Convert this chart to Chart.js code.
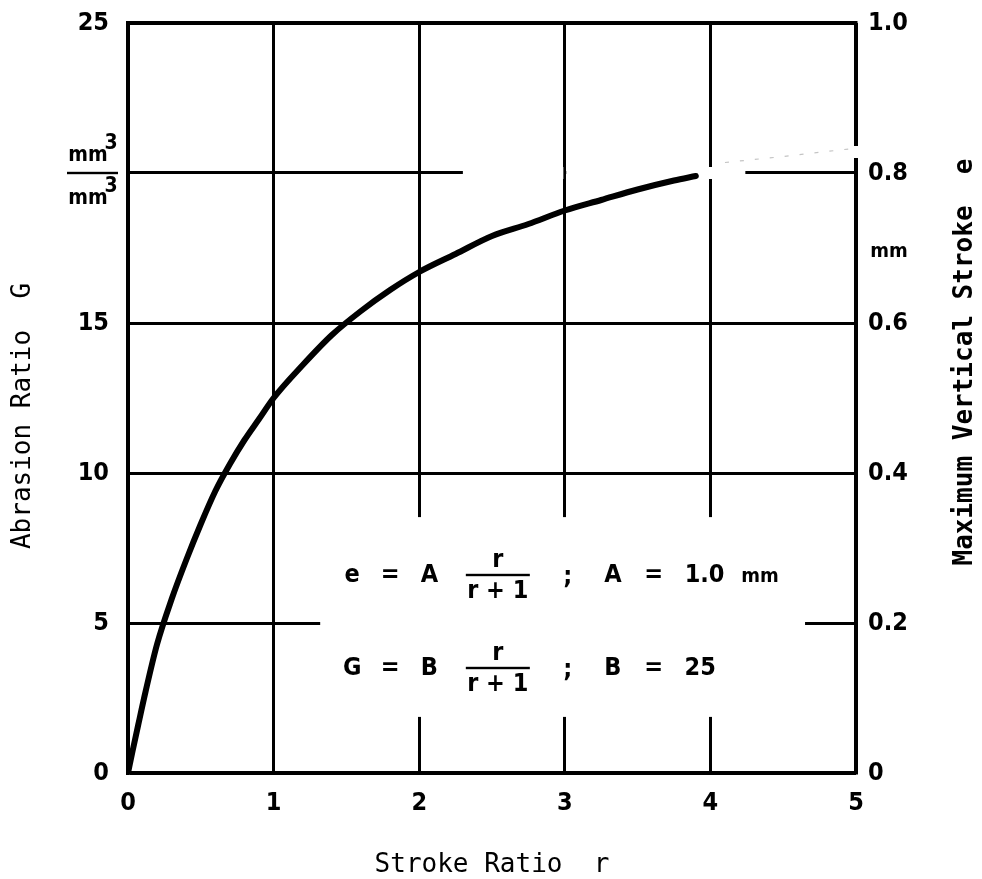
<!DOCTYPE html>
<html lang="en">
<head>
<meta charset="UTF-8">
<title>Abrasion Ratio vs Stroke Ratio</title>
<script src="https://cdn.jsdelivr.net/npm/chart.js"></script>
<style>
  html, body { margin: 0; padding: 0; background: #fff; }
  #wrap { width: 982px; height: 879px; }
</style>
</head>
<body>
<div id="wrap"><canvas id="chart"></canvas></div>
<script>
// curve: stroke ratio r against abrasion ratio G
const strokeRatio   = [0, 0.03, 0.07, 0.12, 0.2, 0.3, 0.4, 0.5, 0.6, 0.7, 0.8, 0.9, 1.0, 1.2, 1.4, 1.6, 1.8, 2.0, 2.25, 2.5, 2.75, 3.0, 3.25, 3.5, 3.75, 3.9];
const abrasionRatio = [0, 0.7, 1.6, 2.7, 4.3, 5.8, 7.1, 8.3, 9.4, 10.3, 11.1, 11.8, 12.5, 13.6, 14.6, 15.4, 16.1, 16.7, 17.3, 17.9, 18.3, 18.75, 19.1, 19.45, 19.75, 19.9];

// faint dashed trace past r = 4
const extRatio    = [4.1, 4.5, 4.95];
const extAbrasion = [20.35, 20.55, 20.8];

// axes
const xTicks = [0, 1, 2, 3, 4, 5];
const xTickLabels = ['0', '1', '2', '3', '4', '5'];
const gTicks = [0, 5, 10, 15, 20, 25];
const gTickLabels = ['0', '5', '10', '15', '', '25'];   // 20 carries the mm3/mm3 unit instead
const eTicks = [0, 0.2, 0.4, 0.6, 0.8, 1.0];
const eTickLabels = ['0', '0.2', '0.4', '0.6', '0.8', '1.0'];

const tickFont = { family: '"DejaVu Sans Condensed"', size: 25, weight: 'bold' };

// white-outs for the breaks in the grid (data units: r0, r1, g0, g1)
const gridBreaks = [
  [1.32, 4.65, 1.87, 8.53],
  [2.30, 2.99, 19.8, 20.2],
  [3.01, 4.24, 19.8, 20.2],
  [4.96, 5.04, 20.5, 20.9]
];

const gridBreakPlugin = {
  id: 'gridBreaks',
  beforeDatasetsDraw(chart) {
    const { ctx, scales: { x, y } } = chart;
    ctx.save();
    ctx.fillStyle = '#fff';
    gridBreaks.forEach(([r0, r1, g0, g1]) => {
      const x0 = x.getPixelForValue(r0), x1 = x.getPixelForValue(r1);
      const y0 = y.getPixelForValue(g1), y1 = y.getPixelForValue(g0);
      ctx.fillRect(x0, y0, x1 - x0, y1 - y0);
    });
    ctx.restore();
  }
};

function drawFraction(ctx, cx, yNum, yBar, yDen, halfW, num, den) {
  ctx.textAlign = 'center';
  ctx.textBaseline = 'middle';
  ctx.fillText(num, cx, yNum);
  ctx.fillText(den, cx, yDen);
  ctx.fillRect(cx - halfW, yBar - 1.2, halfW * 2, 2.4);
}

const textPlugin = {
  id: 'labels',
  afterDraw(chart) {
    const { ctx, chartArea: ca, scales: { x, y, y2 } } = chart;
    ctx.save();
    ctx.fillStyle = '#000';

    // equations inside the plot
    const eqFont = 'bold 25px "DejaVu Sans Condensed"';
    ctx.font = eqFont;
    const rows = [
      { g: 6.6, lead: ['e', '=', 'A'], tail: [['A', 3.33], ['=', 3.61], ['1.0', 3.96]], unit: true },
      { g: 3.5, lead: ['G', '=', 'B'], tail: [['B', 3.33], ['=', 3.61], ['25', 3.93]], unit: false }
    ];
    rows.forEach(row => {
      const yc = y.getPixelForValue(row.g);
      ctx.textAlign = 'center';
      ctx.textBaseline = 'middle';
      [1.54, 1.80, 2.07].forEach((r, i) => ctx.fillText(row.lead[i], x.getPixelForValue(r), yc));
      drawFraction(ctx, x.getPixelForValue(2.54), yc - 15, yc, yc + 16, 32, 'r', 'r + 1');
      ctx.fillText(';', x.getPixelForValue(3.02), yc + 2);
      row.tail.forEach(([t, r]) => ctx.fillText(t, x.getPixelForValue(r), yc));
      if (row.unit) {
        ctx.font = 'bold 20px "DejaVu Sans Condensed"';
        ctx.fillText('mm', x.getPixelForValue(4.34), yc + 2);
        ctx.font = eqFont;
      }
    });

    // unit of the left axis, sitting on the G = 20 line
    const y20 = y.getPixelForValue(20);
    ctx.font = 'bold 21px "DejaVu Sans Condensed"';
    ctx.textAlign = 'center';
    ctx.textBaseline = 'middle';
    ctx.fillText('mm', 88, y20 - 17);
    ctx.fillText('mm', 88, y20 + 26);
    ctx.fillText('3', 111, y20 - 29);
    ctx.fillText('3', 111, y20 + 14);
    ctx.fillRect(67, y20 - 1.2, 51, 2.4);

    // unit of the right axis
    ctx.font = 'bold 20px "DejaVu Sans Condensed"';
    ctx.fillText('mm', ca.right + 33, y2.getPixelForValue(0.695));

    // axis titles
    ctx.font = '26px "DejaVu Sans Mono"';
    ctx.fillText('Stroke Ratio  r', (ca.left + ca.right) / 2, chart.height - 14);

    ctx.save();
    ctx.translate(23, y.getPixelForValue(11.9));
    ctx.rotate(-Math.PI / 2);
    ctx.fillText('Abrasion Ratio  G', 0, 0);
    ctx.restore();

    ctx.save();
    ctx.font = 'bold 26px "DejaVu Sans Mono"';
    ctx.translate(chart.width - 17, y.getPixelForValue(13.7));
    ctx.rotate(-Math.PI / 2);
    ctx.fillText('Maximum Vertical Stroke  e', 0, 0);
    ctx.restore();

    ctx.restore();
  }
};

const ctx = document.getElementById('chart').getContext('2d');
new Chart(ctx, {
  type: 'line',
  data: {
    datasets: [
      {
        data: strokeRatio.map((r, i) => ({ x: r, y: abrasionRatio[i] })),
        xAxisID: 'x',
        yAxisID: 'y',
        borderColor: '#000',
        borderWidth: 6,
        borderCapStyle: 'round',
        pointRadius: 0,
        cubicInterpolationMode: 'monotone',
        fill: false
      },
      {
        data: extRatio.map((r, i) => ({ x: r, y: extAbrasion[i] })),
        xAxisID: 'x',
        yAxisID: 'y',
        borderColor: '#c4c4c4',
        borderWidth: 1.2,
        borderDash: [4, 11],
        pointRadius: 0,
        fill: false
      }
    ]
  },
  options: {
    responsive: true,
    maintainAspectRatio: false,
    devicePixelRatio: 1,
    animation: false,
    layout: { padding: 0 },
    plugins: {
      legend: { display: false },
      tooltip: { enabled: false }
    },
    scales: {
      x: {
        type: 'linear',
        position: 'bottom',
        min: 0,
        max: 5,
        afterBuildTicks: s => { s.ticks = xTicks.map(v => ({ value: v })); },
        afterFit: s => { s.height = 106; },
        ticks: { callback: (v, i) => xTickLabels[i], font: tickFont, color: '#000', padding: 15, maxRotation: 0 },
        grid: { color: '#000', lineWidth: 3, drawTicks: false },
        border: { color: '#000', width: 3.5 }
      },
      x2: {
        type: 'linear',
        position: 'top',
        min: 0,
        max: 5,
        afterFit: s => { s.height = 23; },
        ticks: { display: false },
        grid: { display: false, drawTicks: false },
        border: { color: '#000', width: 3.5 }
      },
      y: {
        type: 'linear',
        position: 'left',
        min: 0,
        max: 25,
        afterBuildTicks: s => { s.ticks = gTicks.map(v => ({ value: v })); },
        afterFit: s => { s.width = 128; },
        // gap between label and axis comes from an invisible tick mark
        ticks: { callback: (v, i) => gTickLabels[i], font: tickFont, color: '#000', padding: 0 },
        grid: { color: '#000', lineWidth: 3, drawTicks: true, tickLength: 19, tickColor: 'rgba(0,0,0,0)' },
        border: { color: '#000', width: 3.5 }
      },
      y2: {
        type: 'linear',
        position: 'right',
        min: 0,
        max: 1,
        afterBuildTicks: s => { s.ticks = eTicks.map(v => ({ value: v })); },
        afterFit: s => { s.width = 126; },
        ticks: { callback: (v, i) => eTickLabels[i], font: tickFont, color: '#000', padding: 0 },
        grid: { display: false, drawTicks: true, tickLength: 12, tickColor: 'rgba(0,0,0,0)' },
        border: { color: '#000', width: 3.5 }
      }
    }
  },
  plugins: [gridBreakPlugin, textPlugin]
});
</script>
</body>
</html>
